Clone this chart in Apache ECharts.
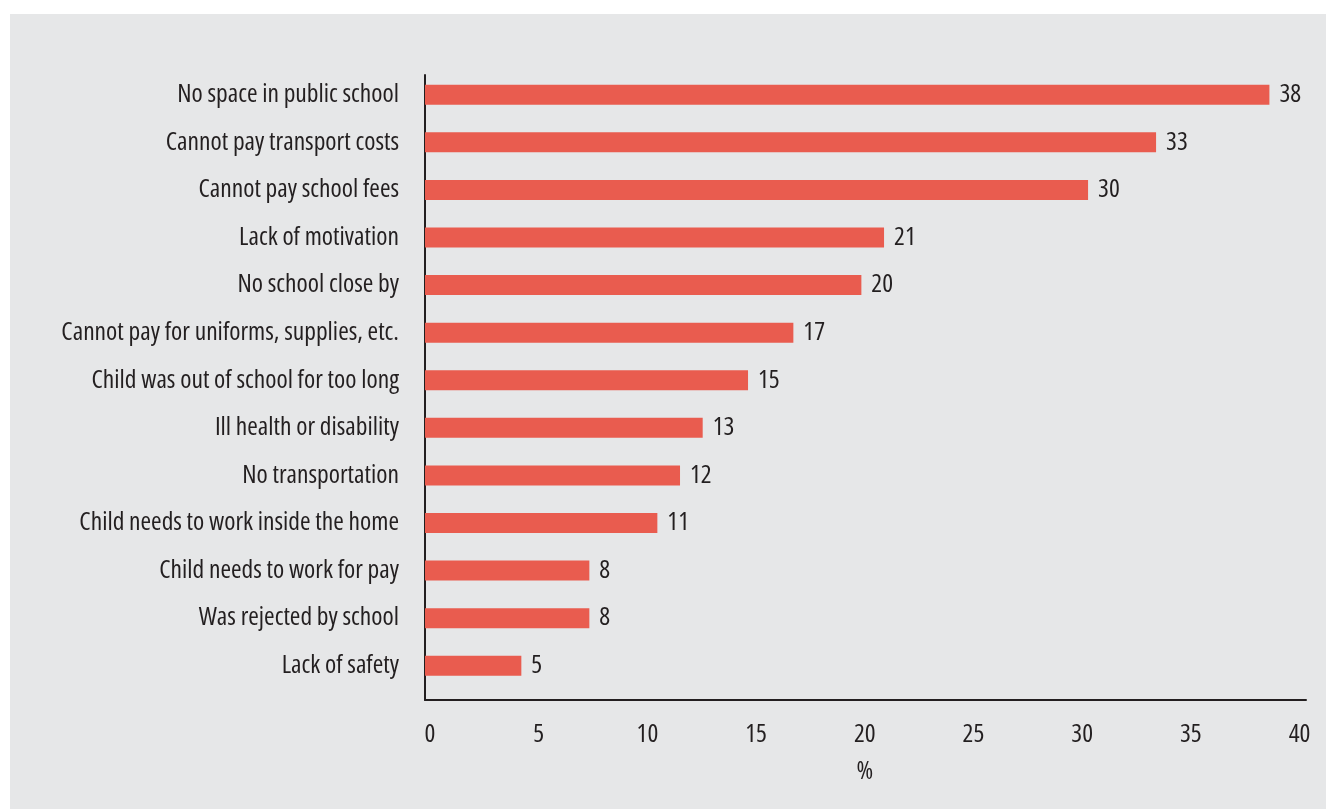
<!DOCTYPE html>
<html>
<head>
<meta charset="utf-8">
<script src="https://cdn.jsdelivr.net/npm/echarts@6/dist/echarts.min.js"></script>
<style>
  html, body { margin: 0; padding: 0; background: #ffffff; }
  #chart { position: absolute; left: 10px; top: 14px; width: 1316px; height: 795px; }
</style>
</head>
<body>
<div id="chart"></div>
<script>
// ---- data ----
const categories = [
  'No space in public school',
  'Cannot pay transport costs',
  'Cannot pay school fees',
  'Lack of motivation',
  'No school close by',
  'Cannot pay for uniforms, supplies, etc.',
  'Child was out of school for too long',
  'Ill health or disability',
  'No transportation',
  'Child needs to work inside the home',
  'Child needs to work for pay',
  'Was rejected by school',
  'Lack of safety'
];
const values = [38, 33, 30, 21, 20, 17, 15, 13, 12, 11, 8, 8, 5];
const axisTickMin = 0;
const axisTickMax = 40;
const axisTickStep = 5;
const axisUnit = '%';

// ---- style ----
const FONT = "'Open Sans', 'DejaVu Sans Condensed', sans-serif";
const STRETCH = 'condensed';   // font-stretch keyword placed in the font shorthand
const FS = 25.5;
const TEXT = '#231f20';
const BAR = '#e95c4f';
const txt = (extra) => Object.assign({ color: TEXT, fontFamily: FONT, fontWeight: STRETCH, fontSize: FS }, extra || {});

const chart = echarts.init(document.getElementById('chart'), null, { renderer: 'canvas' });
chart.setOption({
  animation: false,
  backgroundColor: '#e6e7e8',
  textStyle: { fontFamily: FONT, color: TEXT },
  grid: [
    { left: 415, top: 57, width: 880, height: 618.5, outerBoundsMode: 'none' },   // bars
    { left: 415, top: 61, width: 881, height: 625, outerBoundsMode: 'none' },     // frame lines
    { left: 420, top: 61, width: 869.5, height: 625, outerBoundsMode: 'none' }    // tick labels
  ],
  xAxis: [
    { gridIndex: 0, type: 'value', min: 0.75, max: 39.57, show: false },
    { gridIndex: 1, type: 'value', min: 0, max: 1,
      axisLine: { show: true, lineStyle: { color: TEXT, width: 2 } },
      axisTick: { show: false }, axisLabel: { show: false }, splitLine: { show: false } },
    { gridIndex: 2, type: 'value', min: axisTickMin, max: axisTickMax, interval: axisTickStep,
      axisLine: { show: false }, axisTick: { show: false }, splitLine: { show: false },
      axisLabel: txt({ margin: 22 }),
      name: axisUnit, nameLocation: 'middle', nameGap: 59,
      nameTextStyle: txt() }
  ],
  yAxis: [
    { gridIndex: 0, type: 'category', data: categories, inverse: true,
      axisLine: { show: false }, axisTick: { show: false }, splitLine: { show: false },
      axisLabel: txt({ margin: 26 }) },
    { gridIndex: 1, type: 'value', min: 0, max: 1,
      axisLine: { show: true, lineStyle: { color: TEXT, width: 2 } },
      axisTick: { show: false }, axisLabel: { show: false }, splitLine: { show: false } },
    { gridIndex: 2, type: 'value', min: 0, max: 1, show: false }
  ],
  series: [{
    type: 'bar',
    xAxisIndex: 0,
    yAxisIndex: 0,
    data: values,
    barWidth: 20,
    clip: true,
    itemStyle: { color: BAR },
    label: Object.assign({ show: true, position: 'right', distance: 10 }, txt())
  }]
});
</script>
</body>
</html>
